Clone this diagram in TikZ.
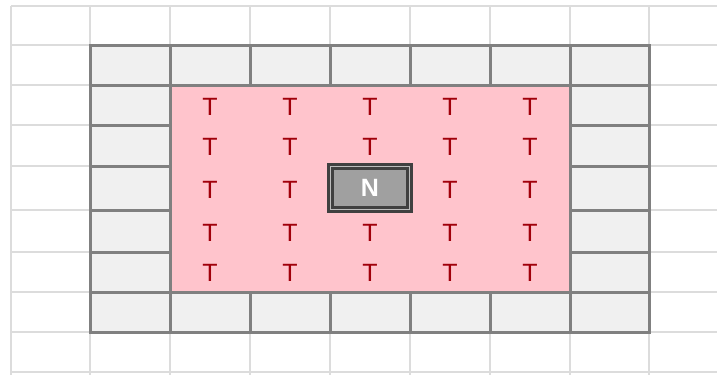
\documentclass[tikz,border=0pt]{standalone}
\usepackage{fontspec}
\setmainfont{Liberation Sans}
\definecolor{gridlight}{RGB}{220,220,220}
\definecolor{ringborder}{RGB}{128,128,128}
\definecolor{ringfill}{RGB}{240,240,240}
\definecolor{pinkfill}{RGB}{255,196,204}
\definecolor{tred}{RGB}{160,0,10}
\definecolor{nfill}{RGB}{160,160,160}
\definecolor{nborder}{RGB}{64,64,64}
\begin{document}
\begin{tikzpicture}[x=1pt,y=-1pt,
  lightgrid/.style={draw=gridlight,line width=2.2pt},
  ringcell/.style={fill=ringfill,draw=ringborder,line width=3pt},
  tlabel/.style={text=tred,font=\fontsize{25}{29}\selectfont,inner sep=0pt},
  nbox/.style={fill=nfill,draw=nborder,line width=3pt,double=nfill!70!white,double distance=1.2pt,
    minimum width=79pt,minimum height=43pt,inner sep=0pt,text=white,font=\bfseries\fontsize{25}{29}\selectfont}]
\useasboundingbox (0,0) rectangle (717,375);
\fill[white] (0,0) rectangle (717,375);
% light background grid
\foreach \x in {11,90,170,250,330,410,490,570,649}
  \draw[lightgrid] (\x,6) -- (\x,375);
\foreach \y in {6,45,85,125,166,210,252,292,332,372}
  \draw[lightgrid] (11,\y) -- (717,\y);
% pink interior
\fill[pinkfill] (170,85) rectangle (570,292);
% ring of cells: top and bottom rows
\foreach \xa/\xb in {90/170,170/250,250/330,330/410,410/490,490/570,570/649}{
  \draw[ringcell] (\xa,45) rectangle (\xb,85);
  \draw[ringcell] (\xa,292) rectangle (\xb,332);
}
% side columns
\foreach \ya/\yb in {85/125,125/166,166/210,210/252,252/292}{
  \draw[ringcell] (90,\ya) rectangle (170,\yb);
  \draw[ringcell] (570,\ya) rectangle (649,\yb);
}
% T labels
\foreach \y [count=\r] in {107,147,190,233,273}
  \foreach \x [count=\c] in {210,290,370,450,530}{
    \ifnum\r=3 \ifnum\c=3 \else
      \node[tlabel] (t\r\c) at (\x,\y) {T};
    \fi\else
      \node[tlabel] (t\r\c) at (\x,\y) {T};
    \fi
  }
% N box
\node[nbox] (n) at (370,188) {N};
\end{tikzpicture}
\end{document}
